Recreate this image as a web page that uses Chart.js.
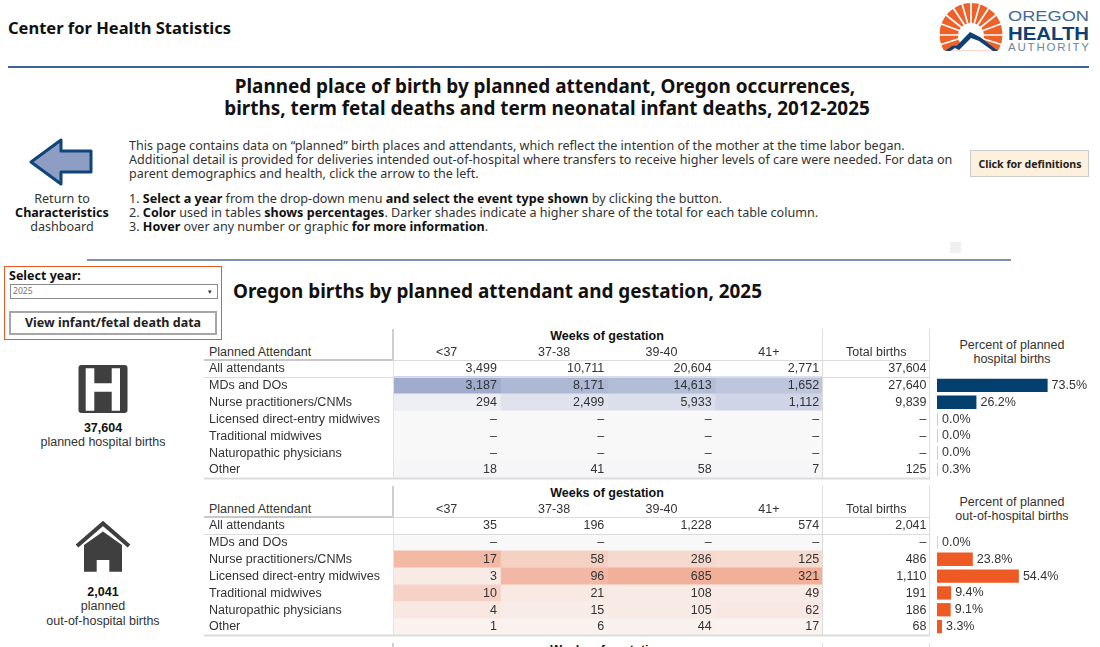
<!DOCTYPE html>
<html>
<head>
<meta charset="utf-8">
<script src="https://cdn.jsdelivr.net/npm/chart.js@4"></script>
<style>
html, body { margin: 0; padding: 0; background: #fff; }
body { width: 1100px; height: 647px; overflow: hidden; position: relative; font-family: "Noto Sans", sans-serif; color: #333; }
.t { position: absolute; white-space: nowrap; line-height: 14px; }
.c { transform: translateX(-50%); text-align: center; }
.a { font-family: "Liberation Sans", Arial, sans-serif; font-size: 12.5px; color: #333; }
.n { font-size: 12.57px; }
b { color: #111; }
.r { position: absolute; }
canvas { position: absolute; }
svg { position: absolute; left: 0; top: 0; }
</style>
</head>
<body>

<svg width="1100" height="647">
  <!-- logo -->
  <defs><clipPath id="sunClip"><rect x="930" y="0" width="80" height="50.5"/></clipPath></defs>
  <g clip-path="url(#sunClip)">
    <circle cx="971" cy="34.5" r="31.5" fill="#ee6128"/>
    <g stroke="#fff" stroke-width="1.7">
      <line x1="971" y1="35" x2="971" y2="0"/>
      <line x1="971" y1="35" x2="961" y2="0"/><line x1="971" y1="35" x2="981" y2="0"/>
      <line x1="971" y1="35" x2="950" y2="3"/><line x1="971" y1="35" x2="992" y2="3"/>
      <line x1="971" y1="35" x2="941" y2="11"/><line x1="971" y1="35" x2="1001" y2="11"/>
      <line x1="971" y1="35" x2="936" y2="22"/><line x1="971" y1="35" x2="1006" y2="22"/>
      <line x1="971" y1="35" x2="934" y2="35"/><line x1="971" y1="35" x2="1008" y2="35"/>
      <line x1="971" y1="35" x2="936" y2="46"/><line x1="971" y1="35" x2="1006" y2="46"/>
    </g>
    <circle cx="971" cy="36" r="13" fill="#fff"/>
    <path d="M950 52 L971 33 L996 52 Z" fill="#fff"/>
  </g>
  <path d="M945 51 L952 46 L957 45.5 L970 32 L980 37 L998 51 L993 51 L979 41 L971 38 L965 44 L959 50 L955 48 L950 51 Z" fill="#0f3f73"/>
  <text x="1008" y="21" font-family="Liberation Sans" font-size="15.5" fill="#46698f" textLength="81" lengthAdjust="spacingAndGlyphs">OREGON</text>
  <text x="1008" y="39.5" font-family="Liberation Sans" font-size="19" font-weight="bold" fill="#0f3f73" textLength="81" lengthAdjust="spacingAndGlyphs">HEALTH</text>
  <text x="1008" y="51" font-family="Liberation Sans" font-size="11.5" fill="#6d859f" textLength="81" lengthAdjust="spacing">AUTHORITY</text>
  <!-- back arrow -->
  <path d="M31 162 L61 140 L61 151 L91 151 L91 172 L61 172 L61 184 Z" fill="#8d9dc4" stroke="#0f4578" stroke-width="3" stroke-linejoin="round"/>
  <!-- hospital sign -->
  <rect x="78.5" y="365" width="49" height="48" rx="3" fill="#3f3f3f"/>
  <path d="M85.7 368.3 H94.3 V383.3 H111.7 V368.3 H120 V410.7 H111.7 V391.7 H94.3 V410.7 H85.7 Z" fill="#fff"/>
  <!-- house -->
  <path d="M77 546 L103 523.5 L129 546" fill="none" stroke="#3f3f3f" stroke-width="4"/>
  <path d="M84 545 L103 531.5 L122 545 V571.7 H109.3 V560 H96.7 V571.7 H84 Z" fill="#3f3f3f"/>
</svg>

<div class="t" style="left:8px;top:17px;font-size:16.5px;line-height:22px;font-weight:700;color:#111">Center for Health Statistics</div>
<div class="r" style="left:8px;top:66px;width:1081px;height:2px;background:#3d6496"></div>

<div class="t c" style="left:545px;top:75px;font-size:18.9px;line-height:22px;font-weight:700;color:#111">Planned place of birth by planned attendant, Oregon occurrences,</div>
<div class="t c" style="left:547px;top:97px;font-size:18.9px;line-height:22px;font-weight:700;color:#111">births, term fetal deaths and term neonatal infant deaths, 2012-2025</div>

<div class="t n" style="left:129px;top:139px">This page contains data on “planned” birth places and attendants, which reflect the intention of the mother at the time labor began.</div>
<div class="t n" style="left:129px;top:153px">Additional detail is provided for deliveries intended out-of-hospital where transfers to receive higher levels of care were needed. For data on</div>
<div class="t n" style="left:129px;top:167px">parent demographics and health, click the arrow to the left.</div>
<div class="t n" style="left:129px;top:192px">1. <b>Select a year</b> from the drop-down menu <b>and select the event type shown</b> by clicking the button.</div>
<div class="t n" style="left:129px;top:206px">2. <b>Color</b> used in tables <b>shows percentages</b>. Darker shades indicate a higher share of the total for each table column.</div>
<div class="t n" style="left:129px;top:220px">3. <b>Hover</b> over any number or graphic <b>for more information</b>.</div>

<div class="t c n" style="left:62px;top:192px">Return to<br><b>Characteristics</b><br>dashboard</div>

<div class="r" style="left:970px;top:150px;width:117px;height:25px;background:#fdf0dc;border:1px solid #ccc"></div>
<div class="t c" style="left:1030px;top:157px;font-size:10.6px;font-weight:700;color:#222">Click for definitions</div>
<div class="r" style="left:950px;top:242px;width:11px;height:11px;background:#f0f0f0"></div>

<div class="r" style="left:87px;top:259px;width:924px;height:2px;background:#7f8fae"></div>
<div class="r" style="left:4px;top:266px;width:216px;height:72px;border:1px solid #ee5a24"></div>
<div class="t" style="left:9px;top:269px;font-size:12.5px;font-weight:700;color:#111">Select year:</div>
<div class="r" style="left:10px;top:284px;width:206px;height:13px;border:1px solid #8a8a8a"></div>
<div class="t" style="left:13px;top:285px;font-size:8.6px;line-height:13px;color:#777">2025</div>
<div class="t" style="left:208px;top:285px;font-size:7px;line-height:13px;color:#333">▾</div>
<div class="r" style="left:9px;top:311px;width:204px;height:20px;border:2px solid #a6a6a6"></div>
<div class="t c" style="left:113px;top:316px;font-size:12.5px;font-weight:700;color:#222">View infant/fetal death data</div>

<div class="t" style="left:233px;top:280px;font-size:18.9px;line-height:22px;font-weight:700;color:#111">Oregon births by planned attendant and gestation, 2025</div>

<div class="t c a" style="left:103px;top:421px;font-weight:700;color:#111">37,604</div>
<div class="t c a" style="left:103px;top:435px;">planned hospital births</div>
<div class="t c a" style="left:103px;top:585px;font-weight:700;color:#111">2,041</div>
<div class="t c a" style="left:103px;top:599px;">planned</div>
<div class="t c a" style="left:103px;top:614px;">out-of-hospital births</div>

<div class="t c a" style="left:607px;top:329px;font-weight:700;color:#111">Weeks of gestation</div>
<div class="t a" style="left:209px;top:345px;">Planned Attendant</div>
<div class="t c a" style="left:1012px;top:338px;">Percent of planned<br>hospital births</div>
<div class="t c a" style="left:607px;top:486px;font-weight:700;color:#111">Weeks of gestation</div>
<div class="t a" style="left:209px;top:502px;">Planned Attendant</div>
<div class="t c a" style="left:1012px;top:495px;">Percent of planned<br>out-of-hospital births</div>
<div class="t c a" style="left:607px;top:643px;font-weight:700;color:#111">Weeks of gestation</div>

<canvas id="hospTable" width="726" height="146" style="left:204px;top:340px"></canvas>
<canvas id="hospBars" width="163" height="101" style="left:937px;top:377px"></canvas>
<canvas id="homeTable" width="726" height="146" style="left:204px;top:497px"></canvas>
<canvas id="homeBars" width="163" height="101" style="left:937px;top:534px"></canvas>

<script>
var columns = ['<37', '37-38', '39-40', '41+', 'Total births']
var attendants = ['All attendants', 'MDs and DOs', 'Nurse practitioners/CNMs', 'Licensed direct-entry midwives',
                  'Traditional midwives', 'Naturopathic physicians', 'Other']

var hospUnder37 = [3499, 3187, 294, 0, 0, 0, 18]
var hosp37to38 = [10711, 8171, 2499, 0, 0, 0, 41]
var hosp39to40 = [20604, 14613, 5933, 0, 0, 0, 58]
var hosp41plus = [2771, 1652, 1112, 0, 0, 0, 7]
var hospTotal = [37604, 27640, 9839, 0, 0, 0, 125]
var hospPercent = [73.5, 26.2, 0, 0, 0, 0.3]

var homeUnder37 = [35, 0, 17, 3, 10, 4, 1]
var home37to38 = [196, 0, 58, 96, 21, 15, 6]
var home39to40 = [1228, 0, 286, 685, 108, 105, 44]
var home41plus = [574, 0, 125, 321, 49, 62, 17]
var homeTotal = [2041, 0, 486, 1110, 191, 186, 68]
var homePercent = [0, 23.8, 54.4, 9.4, 9.1, 3.3]

var tableFont = { family: '"Liberation Sans", Arial, sans-serif', size: 12.5 }
var fontText = '12.5px "Liberation Sans", Arial, sans-serif'

// shade goes from the light end to the dark end with the share of the column total
function shade(share, light, dark) {
    var c = [0, 1, 2].map(function(i) { return Math.round(light[i] + (dark[i] - light[i]) * share) })
    return 'rgb(' + c.join(',') + ')'
}

function fmt(v) {
    return v === 0 ? '–' : v.toLocaleString('en-US')
}

// writes the real number into each cell, right aligned
var cellText = {
    id: 'cellText',
    afterDatasetsDraw: function(chart) {
        var ctx = chart.ctx
        ctx.save()
        ctx.font = fontText
        ctx.fillStyle = '#333'
        ctx.textAlign = 'right'
        ctx.textBaseline = 'middle'
        chart.data.datasets.forEach(function(ds, d) {
            chart.getDatasetMeta(d).data.forEach(function(el, i) {
                ctx.fillText(fmt(ds.cells[i]), el.x - 3.5, el.y)
            })
        })
        ctx.restore()
    }
}

var percentText = {
    id: 'percentText',
    afterDatasetsDraw: function(chart) {
        var ctx = chart.ctx
        ctx.save()
        ctx.font = fontText
        ctx.fillStyle = '#333'
        ctx.textBaseline = 'middle'
        chart.getDatasetMeta(0).data.forEach(function(el, i) {
            ctx.fillText(chart.data.datasets[0].data[i].toFixed(1) + '%', el.x + 4, el.y)
        })
        ctx.restore()
    }
}

// table lines, x positions come from the x scale
var tableLines = {
    id: 'tableLines',
    afterDraw: function(chart) {
        var ctx = chart.ctx, area = chart.chartArea, x = chart.scales.x
        ctx.save()
        ctx.fillStyle = '#dcdcdc'
        ctx.fillRect(x.getPixelForValue(0), area.top, area.right - x.getPixelForValue(0), 1)
        ctx.fillRect(0, area.top + 17, area.right, 1)
        ctx.fillRect(0, area.bottom - 1, area.right, 2)
        ctx.fillStyle = '#c8c8c8'
        ctx.fillRect(0, area.top - 1, x.getPixelForValue(0), 2)
        ctx.restore()
    }
}

function makeTable(id, cols, light, dark) {
    var datasets = cols.map(function(col, c) {
        var colTotal = col[0]
        return {
            label: columns[c],
            data: col.map(function() { return 1 }),   // every cell is one column wide
            cells: col,
            backgroundColor: col.map(function(v, r) {
                if (r === 0 || c === cols.length - 1) return '#fff'
                if (v === 0) return '#f8f8f8'
                return shade(v / colTotal, light, dark)
            }),
            borderWidth: 0,
            barPercentage: 1,
            categoryPercentage: 1
        }
    })
    return new Chart(document.getElementById(id), {
        type: 'bar',
        data: { labels: attendants, datasets: datasets },
        plugins: [cellText, tableLines],
        options: {
            indexAxis: 'y',
            responsive: false,
            animation: false,
            events: [],
            layout: { padding: { left: 5, right: 0, top: 0, bottom: 1 } },
            plugins: { legend: { display: false }, tooltip: { enabled: false } },
            scales: {
                x: {
                    position: 'top',
                    stacked: true,
                    min: 0,
                    max: columns.length,
                    grid: { display: false, drawTicks: false },
                    border: { display: false },
                    afterBuildTicks: function(axis) {
                        axis.ticks = columns.map(function(c, i) { return { value: i + 0.5 } })
                    },
                    afterFit: function(axis) { axis.height = 20 },
                    ticks: {
                        autoSkip: false,
                        maxRotation: 0,
                        padding: 0,
                        color: '#333',
                        font: tableFont,
                        callback: function(v, i) { return columns[i] }
                    }
                },
                y: {
                    stacked: true,
                    grid: { display: false },
                    border: { display: false },
                    afterFit: function(axis) { axis.width = 184 },
                    ticks: { crossAlign: 'far', autoSkip: false, color: '#333', font: tableFont, padding: 0 }
                }
            }
        }
    })
}

function makeBars(id, values, colour, faint) {
    return new Chart(document.getElementById(id), {
        type: 'bar',
        data: {
            labels: attendants.slice(1),
            datasets: [{
                data: values,
                backgroundColor: values.map(function(v) { return v < 1 ? faint : colour }),
                minBarLength: 1,
                barPercentage: 0.79,
                categoryPercentage: 1
            }]
        },
        plugins: [percentText],
        options: {
            indexAxis: 'y',
            responsive: false,
            animation: false,
            events: [],
            layout: { padding: 0 },
            plugins: { legend: { display: false }, tooltip: { enabled: false } },
            scales: {
                x: { display: false, min: 0, max: 108.3 },
                y: { display: false }
            }
        }
    })
}

makeTable('hospTable', [hospUnder37, hosp37to38, hosp39to40, hosp41plus, hospTotal], [246, 246, 249], [150, 165, 201])
makeBars('hospBars', hospPercent, '#03406f', '#c5cde0')
makeTable('homeTable', [homeUnder37, home37to38, home39to40, home41plus, homeTotal], [249, 246, 244], [237, 120, 82])
makeBars('homeBars', homePercent, '#ee5a24', '#f8c8b8')

// column dividers of the three tables, the last one runs off the page
var rules = [
    [392, 329, 2, 31, '#cfcfcf'], [393, 360, 1, 118, '#e2e2e2'], [822, 329, 1, 149, '#dcdcdc'], [929, 329, 1, 149, '#dcdcdc'],
    [392, 486, 2, 31, '#cfcfcf'], [393, 517, 1, 118, '#e2e2e2'], [822, 486, 1, 149, '#dcdcdc'], [929, 486, 1, 149, '#dcdcdc'],
    [392, 643, 2, 4, '#cfcfcf'], [822, 643, 1, 4, '#dcdcdc'], [929, 643, 1, 4, '#dcdcdc']
]
rules.forEach(function(r) {
    var d = document.createElement('div')
    d.className = 'r'
    d.style.cssText = 'left:' + r[0] + 'px;top:' + r[1] + 'px;width:' + r[2] + 'px;height:' + r[3] + 'px;background:' + r[4]
    document.body.appendChild(d)
})
</script>
</body>
</html>
